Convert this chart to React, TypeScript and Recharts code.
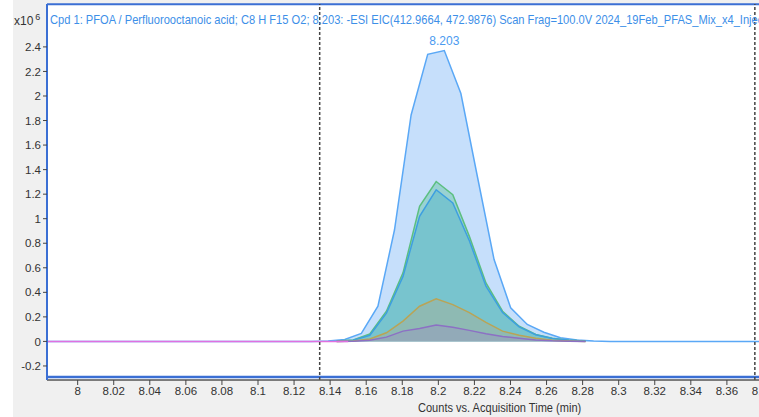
import {
  Area,
  CartesianGrid,
  ComposedChart,
  Line,
  ReferenceDot,
  ReferenceLine,
  XAxis,
  YAxis,
} from 'recharts';

// main EIC trace (x10^6 counts)
const TIME_MAIN = [
  7.983, 8.1297, 8.1389, 8.1481, 8.1573, 8.1665, 8.1757, 8.1849, 8.1941, 8.2033, 8.2125,
  8.2217, 8.2309, 8.2401, 8.2493, 8.2585, 8.2677, 8.2769, 8.2861, 8.2953, 8.39,
];
const PFOA_MAIN = [
  0, 0, 0.003, 0.016, 0.065, 0.287, 0.91, 1.845, 2.34, 2.37, 2.02,
  1.34, 0.667, 0.274, 0.138, 0.075, 0.03, 0.012, 0.004, 0, 0,
];

// overlaid traces, sampled half a scan later
const TIME_OVERLAY = [
  8.1436, 8.1528, 8.162, 8.1712, 8.1804, 8.1896, 8.1988, 8.208, 8.2172, 8.2264, 8.2356,
  8.2448, 8.254, 8.2632, 8.2724, 8.2816,
];
const GREEN = [0.003, 0.012, 0.06, 0.246, 0.559, 1.1, 1.303, 1.195, 0.856, 0.477, 0.246, 0.124, 0.057, 0.025, 0.01, 0.003];
const TEAL = [0.002, 0.01, 0.05, 0.23, 0.53, 1.02, 1.236, 1.128, 0.82, 0.45, 0.235, 0.118, 0.054, 0.024, 0.01, 0.003];
const OLIVE = [0, 0.004, 0.02, 0.07, 0.165, 0.287, 0.347, 0.3, 0.235, 0.155, 0.084, 0.05, 0.025, 0.01, 0.004, 0];
const PURPLE = [0, 0.002, 0.01, 0.035, 0.084, 0.106, 0.133, 0.116, 0.09, 0.062, 0.04, 0.025, 0.012, 0.005, 0.002, 0];

const TIME_PINK = [7.983, 8.05, 8.1, 8.15];
const PINK = [0, 0, 0, 0];

const X_TICKS = [
  8, 8.02, 8.04, 8.06, 8.08, 8.1, 8.12, 8.14, 8.16, 8.18, 8.2, 8.22, 8.24, 8.26, 8.28, 8.3,
  8.32, 8.34, 8.36, 8.38,
];
const Y_TICKS = [-0.2, 0, 0.2, 0.4, 0.6, 0.8, 1, 1.2, 1.4, 1.6, 1.8, 2, 2.2, 2.4];

const TITLE =
  'Cpd 1: PFOA / Perfluorooctanoic acid; C8 H  F15 O2; 8.203: -ESI EIC(412.9664, 472.9876) Scan Frag=100.0V 2024_19Feb_PFAS_Mix_x4_Inject';

const FONT = '"Liberation Sans", Arial, sans-serif';

type Row = { t: number; [key: string]: number };

function buildRows(): Row[] {
  const map = new Map<number, Row>();
  const put = (times: number[], values: number[], key: string) => {
    times.forEach((t, i) => {
      const row = map.get(t) ?? { t };
      row[key] = values[i];
      map.set(t, row);
    });
  };
  put(TIME_MAIN, PFOA_MAIN, 'main');
  put(TIME_OVERLAY, GREEN, 'green');
  put(TIME_OVERLAY, TEAL, 'teal');
  put(TIME_OVERLAY, OLIVE, 'olive');
  put(TIME_OVERLAY, PURPLE, 'purple');
  put(TIME_PINK, PINK, 'pink');
  return Array.from(map.values()).sort((a, b) => a.t - b.t);
}

const rows = buildRows();

const fmt = (v: number) => String(Number(v.toFixed(2)));

export default function App() {
  return (
    <div
      style={{
        position: 'absolute',
        left: 0,
        top: 0,
        width: 759,
        height: 417,
        overflow: 'hidden',
        background: '#f0f0f0',
        fontFamily: FONT,
      }}
    >
      <div style={{ position: 'absolute', left: 0, top: 0, width: 13, height: 417, background: '#fff' }} />
      <ComposedChart
        width={790}
        height={417}
        data={rows}
        margin={{ top: 4, right: 9, left: 13, bottom: 0 }}
        style={{ position: 'absolute', left: 0, top: 0 }}
      >
        <CartesianGrid horizontal={false} vertical={false} fill="#ffffff" />
        <XAxis
          dataKey="t"
          type="number"
          domain={[7.983, 8.39]}
          allowDataOverflow
          ticks={X_TICKS}
          interval={0}
          tickFormatter={fmt}
          height={37}
          tickSize={5}
          tick={{ fill: '#333', fontSize: 11.5, fontFamily: FONT }}
          tickLine={{ stroke: '#444' }}
          axisLine={{ stroke: '#555', strokeWidth: 1.5 }}
        />
        <YAxis
          type="number"
          domain={[-0.3144, 2.7496]}
          allowDataOverflow
          ticks={Y_TICKS}
          interval={0}
          tickFormatter={fmt}
          width={34}
          tickSize={4}
          tick={{ fill: '#333', fontSize: 11.5, fontFamily: FONT }}
          tickLine={{ stroke: '#444' }}
          axisLine={{ stroke: '#3b6fd4', strokeWidth: 2 }}
        />
        <Area
          dataKey="main"
          type="linear"
          connectNulls
          stroke="#5aa8f6"
          strokeWidth={1.5}
          fill="#c6dffb"
          fillOpacity={1}
          isAnimationActive={false}
        />
        <Area
          dataKey="green"
          type="linear"
          connectNulls
          stroke="#5cbf80"
          strokeWidth={1.5}
          fill="#62c4a0"
          fillOpacity={0.45}
          isAnimationActive={false}
        />
        <Area
          dataKey="teal"
          type="linear"
          connectNulls
          stroke="#3d9fe0"
          strokeWidth={1.5}
          fill="#45b0c8"
          fillOpacity={0.4}
          isAnimationActive={false}
        />
        <Area
          dataKey="olive"
          type="linear"
          connectNulls
          stroke="#b9a456"
          strokeWidth={1.5}
          fill="#b8aa80"
          fillOpacity={0.35}
          isAnimationActive={false}
        />
        <Area
          dataKey="purple"
          type="linear"
          connectNulls
          stroke="#8c70c4"
          strokeWidth={1.5}
          fill="#9a86c4"
          fillOpacity={0.3}
          isAnimationActive={false}
        />
        <Line
          dataKey="pink"
          type="linear"
          connectNulls
          stroke="#e070e0"
          strokeWidth={1.5}
          dot={false}
          isAnimationActive={false}
        />
        <ReferenceLine y={2.748} stroke="#3b6fd4" strokeWidth={2} />
        <ReferenceLine y={-0.29} stroke="#3b6fd4" strokeWidth={2.5} />
        <ReferenceLine x={8.1342} stroke="#444" strokeWidth={1.5} strokeDasharray="3 2" />
        <ReferenceLine x={8.3755} stroke="#444" strokeWidth={1.5} strokeDasharray="3 2" />
        <ReferenceDot
          x={8.2033}
          y={2.37}
          r={0}
          stroke="none"
          fill="none"
          label={{ value: '8.203', position: 'top', fill: '#4a9af0', fontSize: 12, fontFamily: FONT, offset: 6 }}
        />
      </ComposedChart>
      <div style={{ position: 'absolute', left: 14, top: 12, fontSize: 12, color: '#333', whiteSpace: 'nowrap' }}>
        x10<sup style={{ fontSize: 9, marginLeft: 2 }}>6</sup>
      </div>
      <div
        style={{
          position: 'absolute',
          left: 50,
          top: 12,
          fontSize: 13,
          color: '#3d8fe8',
          whiteSpace: 'nowrap',
          transform: 'scaleX(0.855)',
          transformOrigin: 'left center',
        }}
      >
        {TITLE}
      </div>
      <div
        style={{
          position: 'absolute',
          left: 418,
          top: 401,
          fontSize: 12,
          color: '#333',
          whiteSpace: 'nowrap',
          transform: 'scaleX(0.92)',
          transformOrigin: 'left center',
        }}
      >
        Counts vs. Acquisition Time (min)
      </div>
    </div>
  );
}
